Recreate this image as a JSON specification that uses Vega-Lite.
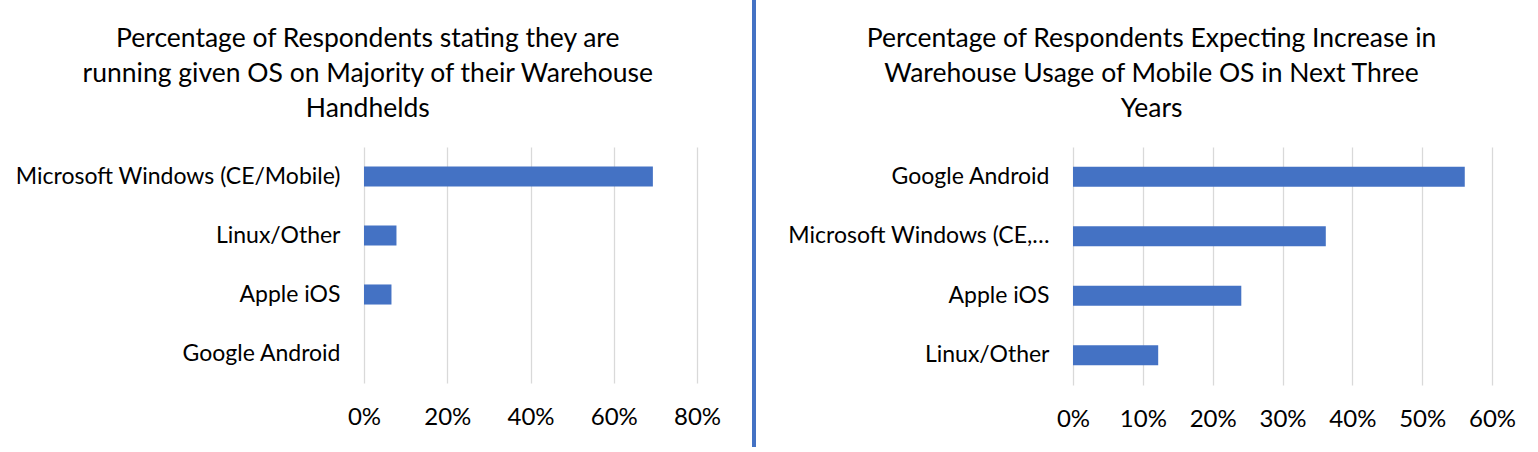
{
  "$schema": "https://vega.github.io/schema/vega-lite/v6.json",
  "datasets": {
    "majority": [
      {"os": "Microsoft Windows (CE/Mobile)", "share": 0.694},
      {"os": "Linux/Other", "share": 0.078},
      {"os": "Apple iOS", "share": 0.066},
      {"os": "Google Android", "share": 0.0}
    ],
    "increase": [
      {"os": "Google Android", "share": 0.561},
      {"os": "Microsoft Windows (CE, Mobile)", "share": 0.362},
      {"os": "Apple iOS", "share": 0.241},
      {"os": "Linux/Other", "share": 0.122}
    ]
  },
  "padding": {"left": 15, "top": 0, "right": 10, "bottom": 0},
  "spacing": 31,
  "hconcat": [
    {
      "spacing": 15,
      "vconcat": [
        {"data": {"values": []}, "width": 1, "height": 10, "mark": "point"},
        {
          "data": {"name": "majority"},
          "title": {
            "text": [
              "Percentage of Respondents stating they are",
              "running given OS on Majority of their Warehouse",
              "Handhelds"
            ]
          },
          "width": 333,
          "height": 236,
          "mark": {"type": "bar", "color": "#4472C4"},
          "encoding": {
            "y": {
              "field": "os",
              "type": "nominal",
              "sort": null,
              "title": null,
              "scale": {"paddingInner": 0.66, "paddingOuter": 0.33}
            },
            "x": {
              "field": "share",
              "type": "quantitative",
              "title": null,
              "scale": {"domain": [0, 0.8]},
              "axis": {"values": [0, 0.2, 0.4, 0.6, 0.8], "format": ".0%"}
            }
          }
        }
      ]
    },
    {
      "data": {"values": []},
      "width": 4,
      "height": 447,
      "mark": "point",
      "view": {"fill": "#4472C4", "stroke": null}
    },
    {
      "spacing": 15,
      "vconcat": [
        {"data": {"values": []}, "width": 1, "height": 10, "mark": "point"},
        {
          "data": {"name": "increase"},
          "title": {
            "text": [
              "Percentage of Respondents Expecting Increase in",
              "Warehouse Usage of Mobile OS in Next Three",
              "Years"
            ]
          },
          "width": 419,
          "height": 238,
          "mark": {"type": "bar", "color": "#4472C4"},
          "encoding": {
            "y": {
              "field": "os",
              "type": "nominal",
              "sort": null,
              "title": null,
              "scale": {"paddingInner": 0.66, "paddingOuter": 0.33},
              "axis": {"labelLimit": 265}
            },
            "x": {
              "field": "share",
              "type": "quantitative",
              "title": null,
              "scale": {"domain": [0, 0.6]},
              "axis": {"values": [0, 0.1, 0.2, 0.3, 0.4, 0.5, 0.6], "format": ".0%"}
            }
          }
        }
      ]
    }
  ],
  "config": {
    "background": "white",
    "view": {"stroke": null},
    "axis": {
      "labelFont": "Lato",
      "labelColor": "#000000",
      "domain": false,
      "ticks": false,
      "gridColor": "#D9D9D9",
      "gridWidth": 1.3
    },
    "axisY": {"grid": false, "labelFontSize": 23, "labelPadding": 24, "labelLimit": 400},
    "axisX": {
      "grid": true,
      "labelFontSize": 24,
      "labelPadding": 22,
      "labelFlush": false,
      "labelOverlap": false
    },
    "title": {
      "font": "Lato",
      "fontSize": 26.5,
      "fontWeight": "normal",
      "color": "#000000",
      "lineHeight": 35,
      "anchor": "middle",
      "frame": "bounds",
      "offset": 25
    }
  }
}
